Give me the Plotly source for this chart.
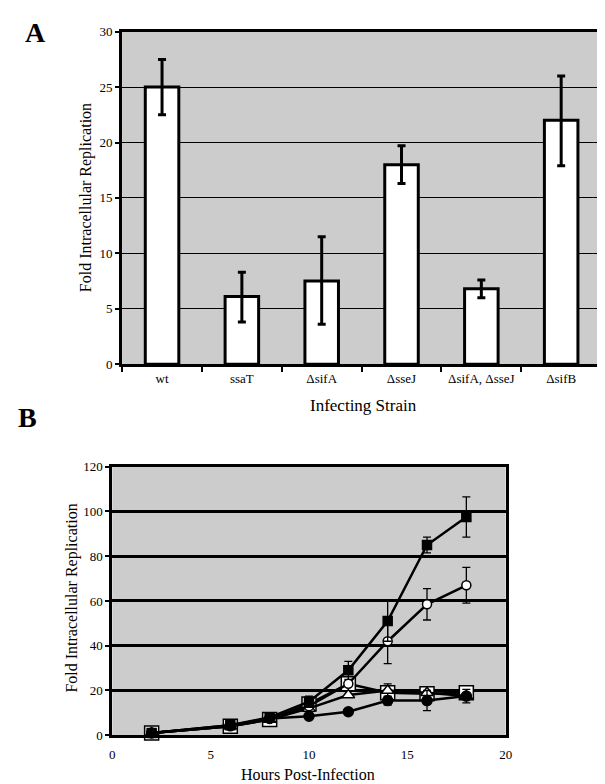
import plotly.graph_objects as go

# ---------- Panel A data ----------
strains = ["wt", "ssaT", "ΔsifA", "ΔsseJ", "ΔsifA, ΔsseJ", "ΔsifB"]
fold_rep = [25.0, 6.1, 7.5, 18.0, 6.8, 22.0]
err_up = [2.5, 2.2, 4.0, 1.7, 0.8, 4.0]
err_dn = [2.5, 2.3, 3.9, 1.7, 0.8, 4.1]

# ---------- Panel B data ----------
hours = [2, 6, 8, 10, 12, 14, 16, 18]
filled_sq = [1, 4.5, 8, 15, 29, 51, 85, 97.5]
filled_sq_err = [None, None, None, 2.5, 4, 9, 3.5, 9]
open_circ = [1, 4, 7.5, 13, 23, 42, 58.5, 67]
open_circ_err = [None, None, None, None, None, 10, 7, 8]
open_tri = [1, 4, 7, 12, 18, 20, 19, 17.5]
open_tri_err = [None, None, None, None, None, 3, None, None]
open_sq = [1, 4, 7, 14, 23, 19, 18.5, 19]
filled_circ = [1, 4.5, 7.5, 8.5, 10.5, 15.5, 15.5, 17.5]
filled_circ_err = [None, None, None, None, None, 2, 4.5, 3]

FONT = "Liberation Serif"
BG = "#cccccc"

fig = go.Figure()

fig.add_trace(go.Bar(
    x=strains, y=fold_rep, xaxis="x", yaxis="y",
    marker=dict(color="white", line=dict(color="black", width=3)),
    error_y=dict(type="data", symmetric=False, array=err_up, arrayminus=err_dn,
                 color="black", thickness=3, width=4),
    showlegend=False,
))

def series(y, err, symbol, fill, size):
    return go.Scatter(
        x=hours, y=y, xaxis="x2", yaxis="y2", mode="lines+markers",
        line=dict(color="black", width=2.5),
        marker=dict(symbol=symbol, color=fill, size=size,
                    line=dict(color="black", width=1.5)),
        error_y=(dict(type="data", array=err, color="black", thickness=1.3, width=4)
                 if err is not None else None),
        cliponaxis=False, showlegend=False,
    )

fig.add_trace(series(open_sq, None, "square", "white", 14))
fig.add_trace(series(open_tri, open_tri_err, "triangle-up", "white", 11))
fig.add_trace(series(open_circ, open_circ_err, "circle", "white", 9))
fig.add_trace(series(filled_sq, filled_sq_err, "square", "black", 9))
fig.add_trace(series(filled_circ, filled_circ_err, "circle", "black", 10))

W, H = 605, 784
def px_x(a, b):
    return [a / W, b / W]
def px_y(top, bottom):
    return [1 - bottom / H, 1 - top / H]

tickfont = dict(family=FONT, size=13, color="black")

fig.update_layout(
    width=W, height=H,
    margin=dict(l=0, r=0, t=0, b=0),
    paper_bgcolor="white", plot_bgcolor=BG,
    font=dict(family=FONT, color="black"),
    bargap=0.58,
    xaxis=dict(domain=px_x(113, 600), anchor="y", type="category",
               showline=True, linecolor="black", linewidth=3, mirror=True,
               ticks="outside", tickson="boundaries", ticklen=5, tickwidth=1.5,
               tickcolor="black", showgrid=False, tickfont=tickfont),
    yaxis=dict(domain=px_y(17, 356), anchor="x", range=[0, 30], dtick=5,
               showline=True, linecolor="black", linewidth=3, mirror=True,
               ticks="outside", ticklen=4, tickwidth=1.5, tickcolor="black",
               showgrid=True, gridcolor="black", gridwidth=1.2,
               zeroline=False, tickfont=tickfont),
    xaxis2=dict(domain=px_x(103, 503), anchor="y2", range=[0, 20], dtick=5,
                showline=True, linecolor="black", linewidth=3, mirror=True,
                ticks="outside", ticklen=5, tickwidth=1, tickcolor="rgba(0,0,0,0)",
                showgrid=False, zeroline=False, tickfont=tickfont),
    yaxis2=dict(domain=px_y(460.5, 734.3), anchor="x2", range=[0, 120], dtick=20,
                showline=True, linecolor="black", linewidth=3, mirror=True,
                ticks="outside", ticklen=4, tickwidth=1.5, tickcolor="black",
                showgrid=True, gridcolor="black", gridwidth=2.5,
                zeroline=False, tickfont=tickfont),
)

def ann(text, x, y, size, angle=0, bold=False):
    fig.add_annotation(
        text=f"<b>{text}</b>" if bold else text,
        x=x / W, y=1 - y / H, xref="paper", yref="paper",
        showarrow=False, textangle=angle,
        font=dict(family=FONT, size=size, color="black"),
        xanchor="center", yanchor="middle",
    )

ann("A", 25, 18, 28, bold=True)
ann("B", 17, 410, 28, bold=True)
ann("Fold Intracellular Replication", 77, 186, 16, angle=-90)
ann("Infecting Strain", 358, 398, 17)
ann("Fold Intracellular Replication", 62, 594, 16, angle=-90)
ann("Hours Post-Infection", 302, 774, 16)

fig.write_html("out.html")
